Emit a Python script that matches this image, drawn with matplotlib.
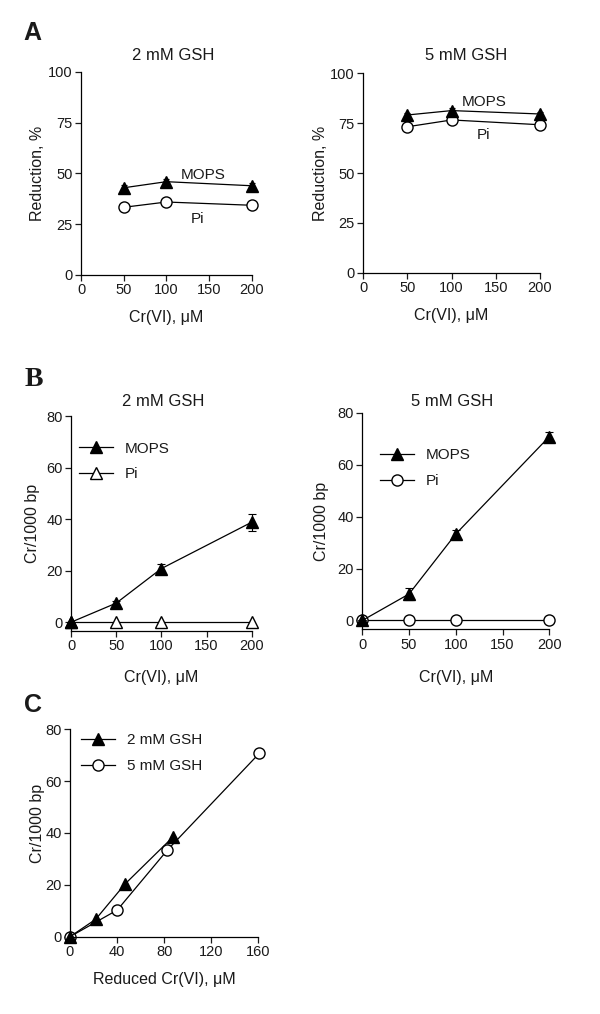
import matplotlib
matplotlib.use("Agg")
import matplotlib.pyplot as plt

plt.rcParams["font.family"] = ["Liberation Sans", "DejaVu Sans"]
plt.rcParams["axes.linewidth"] = 0.9
plt.rcParams["text.color"] = "#1a1a1a"
plt.rcParams["axes.labelcolor"] = "#1a1a1a"

# Panel A: % reduction vs Cr(VI)
a_x = [50, 100, 200]
a2_mops = [42.9, 45.9, 43.9]
a2_mops_err = [1.5, 1.2, 1.5]
a2_pi = [33.3, 35.9, 34.3]
a2_pi_err = [1.8, 0.8, 1.0]
a5_mops = [79.1, 81.3, 79.6]
a5_mops_err = [1.0, 1.2, 1.0]
a5_pi = [73.2, 76.6, 74.2]
a5_pi_err = [1.0, 1.0, 1.0]

# Panel B: Cr/1000 bp vs Cr(VI)
b_x = [0, 50, 100, 200]
b2_mops = [0, 7.4, 20.8, 38.8]
b2_mops_err = [0, 1.0, 1.6, 3.3]
b2_pi = [0, 0, 0, 0]
b5_mops = [0, 10.2, 33.3, 70.8]
b5_mops_err = [0, 2.4, 1.7, 1.9]
b5_pi = [0, 0, 0, 0]

# Panel C: Cr/1000 bp vs reduced Cr(VI)
c2_x = [0, 21.8, 46.7, 87.8]
c2_y = [0, 6.7, 20.3, 38.6]
c5_x = [0, 40.2, 82.7, 160.8]
c5_y = [0, 10.3, 33.4, 70.7]

W, H = 600, 1014
fig = plt.figure(figsize=(6, 10.14), dpi=100)


def make_ax(x0, x1, ytop, ybot):
    ax = fig.add_axes([x0 / W, 1 - ybot / H, (x1 - x0) / W, (ybot - ytop) / H])
    ax.spines["top"].set_visible(False)
    ax.spines["right"].set_visible(False)
    ax.tick_params(direction="out", length=4, width=0.9, labelsize=10.5,
                   pad=2, colors="#1a1a1a")
    return ax


tri = dict(marker="^", ms=8, color="black", mfc="black", mec="black",
           lw=0.9, clip_on=False)
circ = dict(marker="o", ms=8, color="black", mfc="white", mec="black",
            mew=1.0, lw=0.9, clip_on=False)
otri = dict(marker="^", ms=8, color="black", mfc="white", mec="black",
            mew=1.0, lw=0.9, clip_on=False)

# ---- A ----
for (x0, x1, yt, yb), mops, mops_e, pi, pi_e, lbl in [
    ((81, 251.7, 71.7, 275), a2_mops, a2_mops_err, a2_pi, a2_pi_err,
     ((143, 49.4), (136, 27.5))),
    ((363.3, 540, 73.3, 272.7), a5_mops, a5_mops_err, a5_pi, a5_pi_err,
     ((136.6, 85.5), (135.5, 69))),
]:
    ax = make_ax(x0, x1, yt, yb)
    ax.errorbar(a_x, pi, yerr=pi_e, capsize=2.5, elinewidth=0.8, capthick=0.8, **circ)
    ax.errorbar(a_x, mops, yerr=mops_e, capsize=2.5, elinewidth=0.8, capthick=0.8, **tri)
    ax.set_xlim(0, 200)
    ax.set_ylim(0, 100)
    ax.set_xticks([0, 50, 100, 150, 200])
    ax.set_yticks([0, 25, 50, 75, 100])
    ax.set_xlabel("Cr(VI), μM", fontsize=11.5)
    ax.set_ylabel("Reduction, %", fontsize=11.5)
    ax.text(lbl[0][0], lbl[0][1], "MOPS", fontsize=11, ha="center", va="center")
    ax.text(lbl[1][0], lbl[1][1], "Pi", fontsize=11, ha="center", va="center")
    if x0 < 100:
        ax.yaxis.set_label_coords(-0.21, 0.5)
        ax.xaxis.set_label_coords(0.5, -0.172)
    else:
        ax.yaxis.set_label_coords(-0.20, 0.5)
        ax.xaxis.set_label_coords(0.5, -0.177)

fig.text(173 / W, 1 - 55 / H, "2 mM GSH", fontsize=12, ha="center", va="center")
fig.text(465.7 / W, 1 - 55 / H, "5 mM GSH", fontsize=12, ha="center", va="center")

# ---- B ----
axb1 = make_ax(71, 251.7, 416, 631)
axb1.plot(b_x, b2_pi, **otri)
axb1.errorbar(b_x, b2_mops, yerr=b2_mops_err, capsize=3, elinewidth=0.8,
              capthick=0.8, **tri)
h1, = axb1.plot([], [], **tri)
h2, = axb1.plot([], [], **otri)
axb1.legend([h1, h2], ["MOPS", "Pi"], loc="upper left",
            bbox_to_anchor=(0.044, 0.88), frameon=False, fontsize=11,
            borderpad=0, borderaxespad=0, handlelength=2.2,
            handletextpad=0.8, labelspacing=0.75)
axb1.yaxis.set_label_coords(-0.17, 0.44)
axb1.xaxis.set_label_coords(0.5, -0.181)

axb2 = make_ax(362.3, 549.3, 412.7, 629.3)
axb2.plot(b_x, b5_pi, **circ)
axb2.errorbar(b_x, b5_mops, yerr=b5_mops_err, capsize=3, elinewidth=0.8,
              capthick=0.8, **tri)
h1, = axb2.plot([], [], **tri)
h2, = axb2.plot([], [], **circ)
axb2.legend([h1, h2], ["MOPS", "Pi"], loc="upper left",
            bbox_to_anchor=(0.095, 0.835), frameon=False, fontsize=11,
            borderpad=0, borderaxespad=0, handlelength=2.2,
            handletextpad=0.8, labelspacing=0.75)
axb2.yaxis.set_label_coords(-0.18, 0.52)
axb2.xaxis.set_label_coords(0.5, -0.188)

for ax in (axb1, axb2):
    ax.set_xlim(0, 200)
    ax.set_ylim(-3.4, 80)
    ax.set_xticks([0, 50, 100, 150, 200])
    ax.set_yticks([0, 20, 40, 60, 80])
    ax.set_xlabel("Cr(VI), μM", fontsize=11.5)
    ax.set_ylabel("Cr/1000 bp", fontsize=11.5)

fig.text(163 / W, 1 - 401 / H, "2 mM GSH", fontsize=12, ha="center", va="center")
fig.text(451.7 / W, 1 - 401 / H, "5 mM GSH", fontsize=12, ha="center", va="center")

# ---- C ----
axc = make_ax(70, 258.3, 729.3, 936.7)
axc.plot(c5_x, c5_y, **circ)
axc.plot(c2_x, c2_y, **tri)
h1, = axc.plot([], [], **tri)
h2, = axc.plot([], [], **circ)
axc.legend([h1, h2], ["2 mM GSH", "5 mM GSH"], loc="upper left",
           bbox_to_anchor=(0.058, 0.98), frameon=False, fontsize=11,
           borderpad=0, borderaxespad=0, handlelength=2.2,
           handletextpad=0.8, labelspacing=0.75)
axc.set_xlim(0, 160)
axc.set_ylim(0, 80)
axc.set_xticks([0, 40, 80, 120, 160])
axc.set_yticks([0, 20, 40, 60, 80])
axc.set_xlabel("Reduced Cr(VI), μM", fontsize=11.5)
axc.set_ylabel("Cr/1000 bp", fontsize=11.5)
axc.yaxis.set_label_coords(-0.133, 0.548)
axc.xaxis.set_label_coords(0.5, -0.17)

# panel letters
fig.text(32.5 / W, 1 - 33.5 / H, "A", fontsize=18, fontweight="bold", ha="center", va="center")
fig.text(33.7 / W, 1 - 379 / H, "B", fontsize=20, fontweight="bold", ha="center",
         va="center", family=["Liberation Serif", "DejaVu Serif"])
fig.text(33.3 / W, 1 - 704.5 / H, "C", fontsize=18, fontweight="bold", ha="center", va="center")

fig.savefig("out.png", dpi=100)
